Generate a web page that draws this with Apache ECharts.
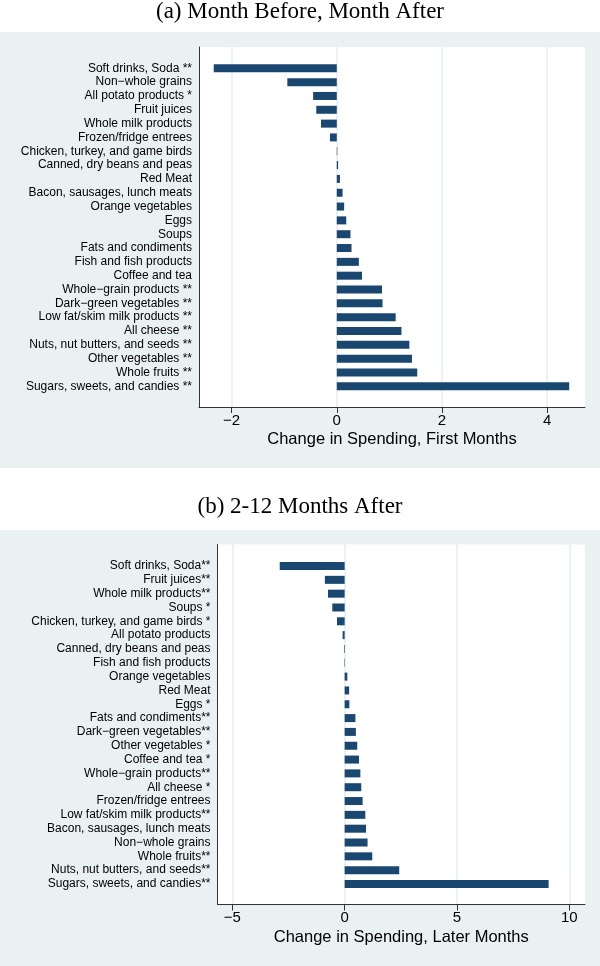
<!DOCTYPE html>
<html>
<head>
<meta charset="utf-8">
<script src="https://cdn.jsdelivr.net/npm/echarts@6/dist/echarts.min.js"></script>
<style>
html,body{margin:0;padding:0;background:#fff;}
#chart{width:600px;height:966px;}
</style>
</head>
<body>
<div id="chart"></div>
<script>
var titleA = '(a) Month Before, Month After';
var titleB = '(b) 2-12 Months After';
var axisNameA = 'Change in Spending, First Months';
var axisNameB = 'Change in Spending, Later Months';

var catsA = ['Soft drinks, Soda **','Non\u2212whole grains','All potato products *','Fruit juices','Whole milk products','Frozen/fridge entrees','Chicken, turkey, and game birds','Canned, dry beans and peas','Red Meat','Bacon, sausages, lunch meats','Orange vegetables','Eggs','Soups','Fats and condiments','Fish and fish products','Coffee and tea','Whole\u2212grain products **','Dark\u2212green vegetables **','Low fat/skim milk products **','All cheese **','Nuts, nut butters, and seeds **','Other vegetables **','Whole fruits **','Sugars, sweets, and candies **'];
var valsA = [-2.34,-0.94,-0.45,-0.39,-0.30,-0.13,0.01,0.025,0.06,0.11,0.14,0.18,0.26,0.28,0.42,0.48,0.86,0.87,1.12,1.23,1.38,1.43,1.53,4.42];
var ticksA = [-2,0,2,4];

var catsB = ['Soft drinks, Soda**','Fruit juices**','Whole milk products**','Soups *','Chicken, turkey, and game birds *','All potato products','Canned, dry beans and peas','Fish and fish products','Orange vegetables','Red Meat','Eggs *','Fats and condiments**','Dark\u2212green vegetables**','Other vegetables *','Coffee and tea *','Whole\u2212grain products**','All cheese *','Frozen/fridge entrees','Low fat/skim milk products**','Bacon, sausages, lunch meats','Non\u2212whole grains','Whole fruits**','Nuts, nut butters, and seeds**','Sugars, sweets, and candies**'];
var valsB = [-2.89,-0.88,-0.74,-0.55,-0.34,-0.09,-0.03,-0.02,0.12,0.20,0.21,0.48,0.50,0.56,0.64,0.70,0.74,0.80,0.92,0.95,1.02,1.23,2.43,9.08];
var ticksB = [-5,0,5,10];

var rangeA = [-2.62, 4.72];
var rangeB = [-5.66, 10.70];

var PANEL = '#EAF1F3';
var GRIDLINE = '#E4EDF0';
var BAR = '#1A476F';
var AXIS = '#333333';
var SANS = 'Liberation Sans';
var SERIF = 'Liberation Serif';

function fmt(v){ return v < 0 ? '\u2212' + Math.abs(v) : String(v); }

function bgX(gi, range, ticks, name){
  return {
    gridIndex: gi, type: 'value', min: range[0], max: range[1],
    axisLine: {show: true, onZero: false, lineStyle: {color: AXIS, width: 1}},
    axisTick: {show: true, length: 6, customValues: ticks, lineStyle: {color: AXIS}},
    axisLabel: {customValues: ticks, formatter: fmt, fontFamily: SANS, fontSize: 15, color: '#000', margin: 6},
    splitLine: {show: true, lineStyle: {color: GRIDLINE, width: 1.5}},
    name: name, nameLocation: 'middle', nameGap: 24,
    nameTextStyle: {fontFamily: SANS, fontSize: 16.5, color: '#000'}
  };
}
function bgY(gi){
  return {
    gridIndex: gi, type: 'value', min: 0, max: 1,
    axisLine: {show: true, onZero: false, lineStyle: {color: AXIS, width: 1}},
    axisTick: {show: false}, axisLabel: {show: false}, splitLine: {show: false}
  };
}
function barX(gi, range){
  return {gridIndex: gi, type: 'value', min: range[0], max: range[1], show: false,
    axisLine:{onZero:false}, splitLine:{show:false}};
}
function barY(gi, cats){
  return {
    gridIndex: gi, type: 'category', data: cats, inverse: true,
    axisLine: {show: false, onZero: false}, axisTick: {show: false},
    axisLabel: {interval: 0, fontFamily: SANS, fontSize: 12, color: '#000', margin: 7}
  };
}

var chart = echarts.init(document.getElementById('chart'), null, {renderer: 'canvas'});
chart.setOption({
  animation: false,
  backgroundColor: '#ffffff',
  title: [
    {text: titleA, left: 'center', top: 0, padding: 0,
     textStyle: {fontFamily: SERIF, fontWeight: 'normal', fontSize: 23, color: '#000'}},
    {text: titleB, left: 'center', top: 495, padding: 0,
     textStyle: {fontFamily: SERIF, fontWeight: 'normal', fontSize: 23, color: '#000'}}
  ],
  graphic: [
    {type: 'rect', z: -100, shape: {x: 0, y: 32, width: 600, height: 436}, style: {fill: PANEL}},
    {type: 'rect', z: -100, shape: {x: 0, y: 530, width: 600, height: 436}, style: {fill: PANEL}}
  ],
  grid: [
    {left: 199, top: 47, width: 386, height: 360, show: true, backgroundColor: '#fff', borderWidth: 0},
    {left: 199, top: 61.4, width: 386, height: 331.8},
    {left: 217.5, top: 544.5, width: 367.5, height: 360, show: true, backgroundColor: '#fff', borderWidth: 0},
    {left: 217.5, top: 559.1, width: 367.5, height: 331.8}
  ],
  xAxis: [
    bgX(0, rangeA, ticksA, axisNameA),
    barX(1, rangeA),
    bgX(2, rangeB, ticksB, axisNameB),
    barX(3, rangeB)
  ],
  yAxis: [
    bgY(0),
    barY(1, catsA),
    bgY(2),
    barY(3, catsB)
  ],
  series: [
    {type: 'bar', xAxisIndex: 1, yAxisIndex: 1, data: valsA, barWidth: 8,
     itemStyle: {color: BAR}},
    {type: 'bar', xAxisIndex: 3, yAxisIndex: 3, data: valsB, barWidth: 8,
     itemStyle: {color: BAR}}
  ]
});
</script>
</body>
</html>
